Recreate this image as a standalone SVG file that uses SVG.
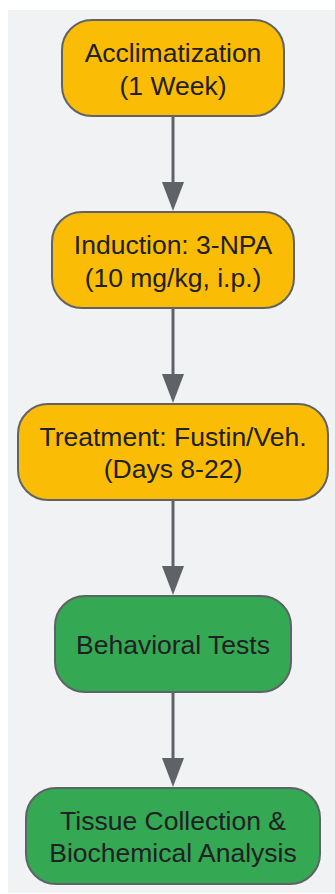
<svg xmlns="http://www.w3.org/2000/svg" width="335" height="894" viewBox="0 0 335 894">
<style>
.n rect{stroke:#5f6368;stroke-width:2}
.y{fill:#fbbc05}
.g{fill:#34a853}
text{font-family:"Liberation Sans",Arial,sans-serif;font-size:26.5px;fill:#202124;text-anchor:middle}
.e line{stroke:#5f6368;stroke-width:3}
.e path{fill:#5f6368}
</style>
<rect x="0" y="0" width="335" height="894" fill="#ffffff"/>
<rect x="8" y="10" width="327" height="883" fill="#f1f2f4"/>
<g class="e" id="connectors">
<line x1="173" y1="117" x2="173" y2="184"/><path d="M162,182 L184,182 L173,211 Z"/>
<line x1="173" y1="309" x2="173" y2="376"/><path d="M162,374 L184,374 L173,403 Z"/>
<line x1="173" y1="501" x2="173" y2="568"/><path d="M162,566 L184,566 L173,595 Z"/>
<line x1="173" y1="693" x2="173" y2="760"/><path d="M162,758 L184,758 L173,787 Z"/>
</g>
<g class="n" id="n1"><rect class="y" x="62" y="20" width="222" height="96" rx="30"/><text x="173" y="62">Acclimatization</text><text x="173" y="95">(1 Week)</text></g>
<g class="n" id="n2"><rect class="y" x="52" y="212" width="242" height="96" rx="30"/><text x="173" y="254">Induction: 3-NPA</text><text x="173" y="287">(10 mg/kg, i.p.)</text></g>
<g class="n" id="n3"><rect class="y" x="18" y="404" width="310" height="96" rx="30"/><text x="173" y="446">Treatment: Fustin/Veh.</text><text x="173" y="478">(Days 8-22)</text></g>
<g class="n" id="n4"><rect class="g" x="55" y="596" width="236" height="96" rx="30"/><text x="173" y="654">Behavioral Tests</text></g>
<g class="n" id="n5"><rect class="g" x="26" y="788" width="294" height="96" rx="30"/><text x="173" y="830">Tissue Collection &amp;</text><text x="173" y="862">Biochemical Analysis</text></g>
</svg>
